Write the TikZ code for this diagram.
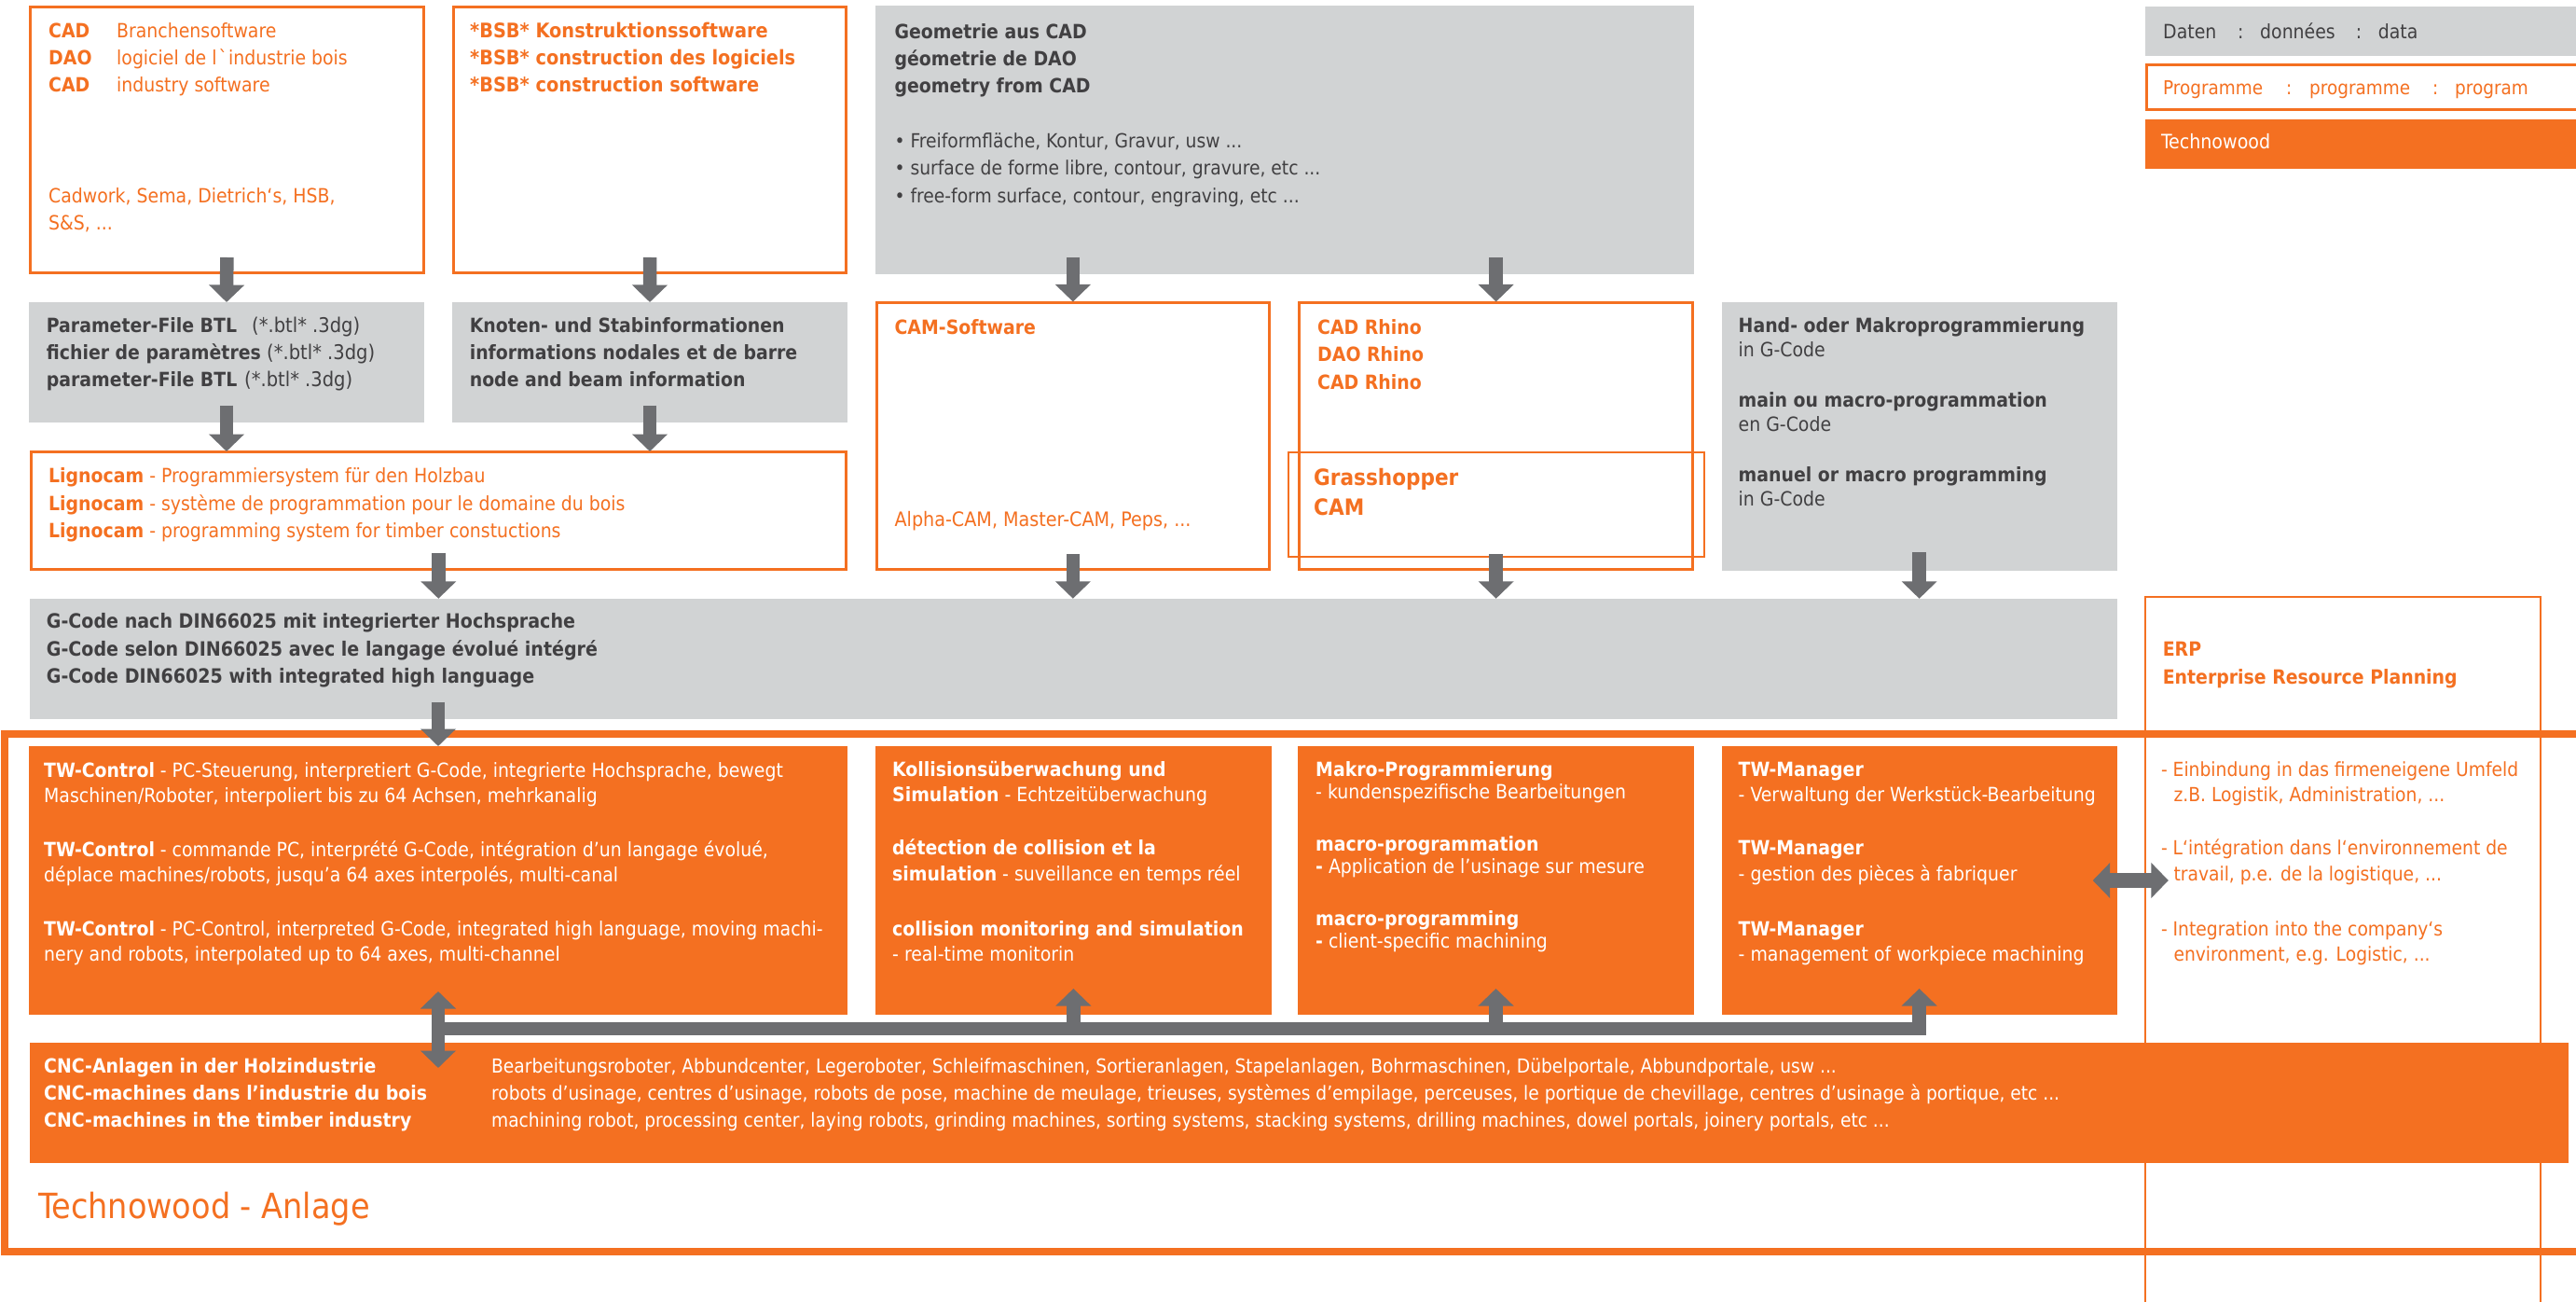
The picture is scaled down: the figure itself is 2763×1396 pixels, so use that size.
\documentclass[tikz,border=0pt]{standalone}
\usepackage{fontspec}
\setmainfont{DejaVu Sans Condensed}[BoldFont={DejaVu Sans Condensed Bold}]
\usetikzlibrary{arrows.meta,calc}
\definecolor{tw}{HTML}{F47021}
\definecolor{lg}{HTML}{D1D3D4}
\definecolor{ag}{HTML}{6D6E71}
\definecolor{dk}{HTML}{414042}
\tikzset{
  sz/.style 2 args={minimum width=#1pt,minimum height=#2pt,anchor=north west,inner sep=0pt,outer sep=0pt},
  outl/.style={draw=tw,line width=3pt,fill=white},
  outlthin/.style={draw=tw,line width=2pt},
  datab/.style={fill=lg},
  twb/.style={fill=tw},
  txt/.style={anchor=north west,inner sep=0pt,align=left},
  ld/.style 2 args={font=\fontsize{#1}{#2}\selectfont,yshift={0.7*#2}},
  og/.style={text=tw},
  dg/.style={text=dk},
  wh/.style={text=white},
  blk/.style={draw=ag,line width=14.5pt,-{Triangle[width=37pt,length=18.5pt]}},
  dblk/.style={draw=ag,line width=14.5pt,{Triangle[width=37pt,length=18.5pt]}-{Triangle[width=37pt,length=18.5pt]}},
  hdblk/.style={draw=ag,line width=15.5pt,{Triangle[width=37pt,length=18.5pt]}-{Triangle[width=37pt,length=18.5pt]}},
}
\newcommand{\tb}[2]{\makebox[#1pt][l]{#2}}
\newcommand{\btlext}{{\fontsize{21.7}{29}\selectfont(*.btl* .3dg)}}
\begin{document}
\begin{tikzpicture}[x=1pt,y=-1pt]
\useasboundingbox (0,0) rectangle (2763,1396);
\fill[white] (0,0) rectangle (2763,1396);
% frame
\draw[draw=tw,line width=8pt] (2763,787) -- (5,787) -- (5,1341.5) -- (2763,1341.5);
\draw[outlthin] (2300.6,1396) -- (2300.6,640) -- (2724.5,640) -- (2724.5,1396);
\coordinate (erpw) at (2300.6,944);
% top row
\node[sz={421.3}{285.3},outl] (cad) at (32.7,7.3) {};
\node[sz={421.1}{285.3},outl] (bsb) at (486.5,7.3) {};
\node[sz={877.9}{288},datab] (geo) at (938.8,6) {};
\node[sz={424}{129},datab] (param) at (31,324) {};
\node[sz={424}{129},datab] (knoten) at (485,324) {};
\node[sz={874.6}{126.6},outl] (ligno) at (33,484) {};
\node[sz={421.7}{285.6},outl] (cam) at (940,325) {};
\node[sz={421.7}{285.6},outl] (rhino) at (1393.8,325) {};
\node[sz={445.9}{112.5},outlthin] (gh) at (1381.7,484.5) {};
\node[sz={423.8}{288},datab] (hand) at (1846.7,324) {};
\node[sz={2238.5}{129.2},datab] (gcode) at (32,641.8) {};
% legend
\node[sz={462.4}{53.1},datab] (lega) at (2300.6,6.6) {};
\draw[outl,fill=none] (2763,69.5) -- (2302,69.5) -- (2302,118) -- (2763,118);
\coordinate (legb) at (2300.6,68);
\node[sz={462.4}{53},twb] (legc) at (2300.6,128) {};
% orange
\node[sz={878}{288},twb] (tw) at (31,800) {};
\node[sz={424.6}{288},twb] (kol) at (939,800) {};
\node[sz={425}{288},twb] (mak) at (1392,800) {};
\node[sz={423.8}{288},twb] (mgr) at (1846.7,800) {};
\node[sz={2722.5}{129},twb] (cnc) at (32,1118) {};
% arrows
\draw[blk] ([yshift=16.6]cad.south) -- (param.north);
\draw[blk] ([yshift=16.6]bsb.south) -- (knoten.north);
\draw[blk] ([yshift=18]geo.south -| cam.north) -- ([yshift=1.5]cam.north);
\draw[blk] ([yshift=18]geo.south -| rhino.north) -- ([yshift=1.5]rhino.north);
\draw[blk] ([yshift=18.3]param.south) -- (ligno.north -| param.south);
\draw[blk] ([yshift=18.3]knoten.south) -- (ligno.north -| knoten.south);
\draw[blk] ([yshift=18]ligno.south) -- (gcode.north -| ligno.south);
\draw[blk] ([yshift=16.6]cam.south) -- (gcode.north -| cam.south);
\draw[blk] ([yshift=16.6]rhino.south) -- (gcode.north -| rhino.south);
\draw[blk] ([yshift=20]hand.south) -- (gcode.north -| hand.south);
\draw[blk] ([yshift=18.3]gcode.south -| tw.north) -- (tw.north);
\coordinate (bar) at (470,1103);
\draw[blk,line join=miter] (bar) -- (bar -| mgr.south) -- ([yshift=28]mgr.south);
\draw[blk] (bar -| kol.south) -- ([yshift=28]kol.south);
\draw[blk] (bar -| mak.south) -- ([yshift=28]mak.south);
\draw[dblk] ([yshift=25]tw.south) -- ([yshift=-27]cnc.north -| tw.south);
\draw[hdblk] ([xshift=-25.8]mgr.east |- erpw) -- ([xshift=25.2]erpw);
% text
\node[txt,ld={21}{29},og] (t1) at (52,40.8) {\strut\textbf{CAD}\\\textbf{DAO}\\\textbf{CAD}};
\node[txt,ld={21}{29},og] (t1b) at (125,40.8) {\strut Branchensoftware\\logiciel de l\kern2ptˋ\kern1pt industrie bois\\industry software};
\node[txt,ld={21}{29},og] (t1c) at (52,217.5) {\strut Cadwork, Sema, Dietrich‘s, HSB,\\S\&S, ...};
\node[txt,ld={21.5}{29},og] (t2) at (504,40.8) {\strut\textbf{*BSB* Konstruktionssoftware}\\\textbf{*BSB* construction des logiciels}\\\textbf{*BSB* construction software}};
\node[txt,ld={21}{29.3},dg] (t3) at (959.4,41) {\strut\textbf{Geometrie aus CAD}\\\textbf{géometrie de DAO}\\\textbf{geometry from CAD}};
\node[txt,ld={20.8}{29.5},dg] (t3b) at (959.4,158) {\strut• Freiformfläche, Kontur, Gravur, usw ...\\• surface de forme libre, contour, gravure, etc ...\\• free-form surface, contour, engraving, etc ...};
\node[txt,ld={21}{29},dg] (t4) at (49.7,356) {\strut\tb{220.3}{\textbf{Parameter-File BTL}}\btlext\\\tb{236.3}{\textbf{fichier de paramètres}}\btlext\\\tb{212.3}{\textbf{parameter-File BTL}}\btlext};
\node[txt,ld={21}{29},dg] (t5) at (503.6,356) {\strut\textbf{Knoten- und Stabinformationen}\\\textbf{informations nodales et de barre}\\\textbf{node and beam information}};
\node[txt,ld={21}{29.2},og] (t6) at (52,517.6) {\strut\textbf{Lignocam} - Programmiersystem für den Holzbau\\\textbf{Lignocam} - système de programmation pour le domaine du bois\\\textbf{Lignocam} - programming system for timber constuctions};
\node[txt,ld={21}{29},og] (t7) at (959.4,358.4) {\strut\textbf{CAM-Software}};
\node[txt,ld={21.3}{29},og] (t7b) at (959.4,564) {\strut Alpha-CAM, Master-CAM, Peps, ...};
\node[txt,ld={21}{29.3},og] (t8) at (1413,358.4) {\strut\textbf{CAD Rhino}\\\textbf{DAO Rhino}\\\textbf{CAD Rhino}};
\node[txt,ld={24}{32},og] (t9) at (1409,520) {\strut\textbf{Grasshopper}\\\textbf{CAM}};
\node[txt,ld={21}{26.3},dg] (t10) at (1864.5,356) {\strut\textbf{Hand- oder Makroprogrammierung}\\in G-Code\\[27.4pt]\textbf{main ou macro-programmation}\\en G-Code\\[27.4pt]\textbf{manuel or macro programming}\\in G-Code};
\node[txt,ld={21}{29},dg] (t11) at (2320,41.8) {\strut\tb{80}{Daten}\tb{24}{:}\tb{102.6}{données}\tb{24}{:}data};
\node[txt,ld={20.5}{29},og] (t12) at (2320,101) {\strut\tb{132}{Programme}\tb{25}{:}\tb{132}{programme}\tb{24}{:}program};
\node[txt,ld={21.2}{29},wh] (t13) at (2317.8,159) {\strut Technowood};
\node[txt,ld={21.2}{29.4},dg] (t14) at (49.7,673.5) {\strut\textbf{G-Code nach DIN66025 mit integrierter Hochsprache}\\\textbf{G-Code selon DIN66025 avec le langage évolué intégré}\\\textbf{G-Code DIN66025 with integrated high language}};
\node[txt,ld={21}{30},og] (t15) at (2319.6,703) {\strut\textbf{ERP}\\\textbf{Enterprise Resource Planning}};
\node[txt,ld={21}{27},wh] (t16) at (47,832.9) {\strut\textbf{TW-Control} - PC-Steuerung, interpretiert G-Code, integrierte Hochsprache, bewegt\\Maschinen/Roboter, interpoliert bis zu 64 Achsen, mehrkanalig\\[31pt]\textbf{TW-Control} - commande PC, interprété G-Code, intégration d’un langage évolué,\\déplace machines/robots, jusqu’a 64 axes interpolés, multi-canal\\[31pt]\textbf{TW-Control} - PC-Control, interpreted G-Code, integrated high language, moving machi-\\nery and robots, interpolated up to 64 axes, multi-channel};
\node[txt,ld={21}{27.5},wh] (t17) at (957,832) {\strut\textbf{Kollisionsüberwachung und}\\\textbf{Simulation} - Echtzeitüberwachung\\[29.5pt]\textbf{détection de collision et la}\\\textbf{simulation} - suveillance en temps réel\\[31.5pt]\textbf{collision monitoring and simulation}\\- real-time monitorin};
\node[txt,ld={21}{24},wh] (t18) at (1411,832) {\strut\textbf{Makro-Programmierung}\\- kundenspezifische Bearbeitungen\\[32pt]\textbf{macro-programmation}\\\textbf{-} Application de l’usinage sur mesure\\[32pt]\textbf{macro-programming}\\\textbf{-} client-specific machining};
\node[txt,ld={21}{27.5},wh] (t19) at (1864.5,832) {\strut\textbf{TW-Manager}\\- Verwaltung der Werkstück-Bearbeitung\\[29.5pt]\textbf{TW-Manager}\\- gestion des pièces à fabriquer\\[31.5pt]\textbf{TW-Manager}\\- management of workpiece machining};
\node[txt,ld={20.8}{27.5},og] (t20) at (2317.8,832) {\strut- Einbindung in das firmeneigene Umfeld\\\hspace*{13.5pt}z.B. Logistik, Administration, ...\\[29.5pt]- L‘intégration dans l‘environnement de\\\hspace*{13.5pt}travail, p.e. de la logistique, ...\\[31.5pt]- Integration into the company‘s\\\hspace*{13.5pt}environment, e.g. Logistic, ...};
\node[txt,ld={21}{29},wh] (t21) at (47,1150.7) {\strut\textbf{CNC-Anlagen in der Holzindustrie}\\\textbf{CNC-machines dans l’industrie du bois}\\\textbf{CNC-machines in the timber industry}};
\node[txt,ld={20.7}{29},wh] (t22) at (527,1150.7) {\strut Bearbeitungsroboter, Abbundcenter, Legeroboter, Schleifmaschinen, Sortieranlagen, Stapelanlagen, Bohrmaschinen, Dübelportale, Abbundportale, usw ...\\robots d’usinage, centres d’usinage, robots de pose, machine de meulage, trieuses, systèmes d’empilage, perceuses, le portique de chevillage, centres d’usinage à portique, etc ...\\machining robot, processing center, laying robots, grinding machines, sorting systems, stacking systems, drilling machines, dowel portals, joinery portals, etc ...};
\node[txt,ld={37.3}{40},og] (t23) at (41,1305.6) {\strut Technowood - Anlage};
\end{tikzpicture}
\end{document}
